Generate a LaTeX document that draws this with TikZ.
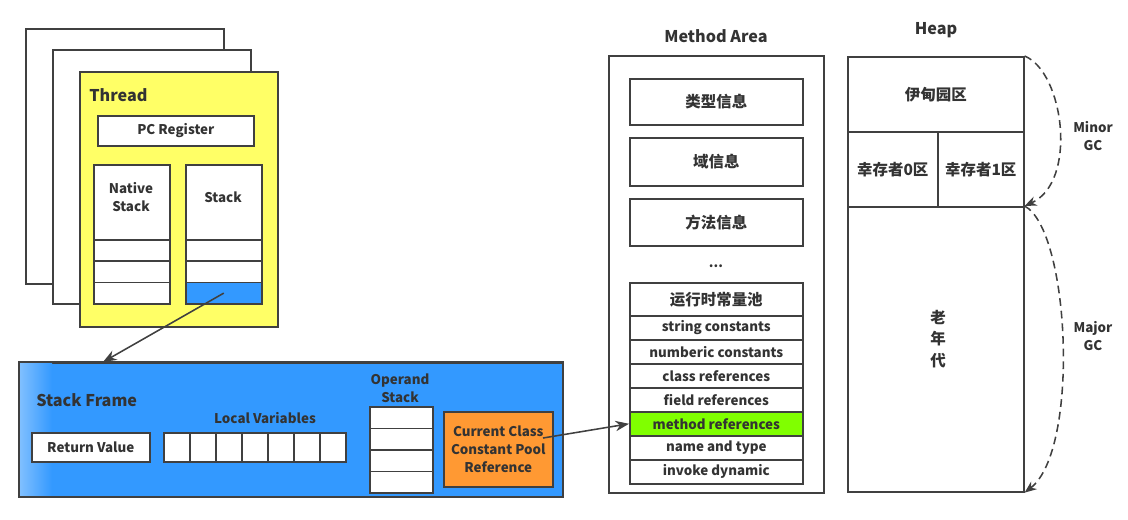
\documentclass[tikz,border=0pt]{standalone}
\usepackage{fontspec}
\setmainfont{Noto Sans CJK SC}
\usepackage{tikz}
\usetikzlibrary{arrows.meta,calc}
\definecolor{linha}{HTML}{404040}
\definecolor{texto}{HTML}{333333}
\definecolor{amarelo}{HTML}{FFFF66}
\definecolor{azul}{HTML}{3399FF}
\definecolor{azulclaro}{HTML}{7FBFFF}
\definecolor{laranja}{HTML}{FF9933}
\definecolor{verde}{HTML}{80FF00}
\tikzset{
  rect/.style={draw=linha, line width=1.1pt, inner sep=0pt, anchor=north west, fill=white,
    text=texto, font=\bfseries\fontsize{9.5}{12.5}\selectfont, align=center},
  lbl/.style={text=texto, font=\bfseries\fontsize{9.5}{12.5}\selectfont, align=center, inner sep=0pt},
  cjk/.style={font=\bfseries\fontsize{11}{15}\selectfont},
  titulo/.style={text=texto, font=\bfseries\fontsize{11.5}{13}\selectfont, inner sep=0pt},
  seta/.style={-{Stealth[length=3.4mm, width=2.6mm]}, draw=linha, line width=1.1pt},
  gc/.style={-{Stealth[length=3mm, width=2.4mm]}, draw=linha, line width=1.1pt, dash pattern=on 5.5pt off 3.5pt}
}
\begin{document}
\begin{tikzpicture}[x=0.025cm, y=-0.025cm]
\useasboundingbox (0,0) rectangle (1128,519);
% thread stack
\node[rect, minimum width=4.95cm, minimum height=6.375cm] (pag1) at (25,28) {};
\node[rect, minimum width=4.95cm, minimum height=6.35cm] (pag2) at (52,49) {};
\node[rect, fill=amarelo, minimum width=4.95cm, minimum height=6.375cm] (thread) at (79,71) {};
\node[titulo, anchor=west] (threadlbl) at (89,95) {Thread};
\node[rect, minimum width=3.9cm, minimum height=0.75cm] (pc) at (97,115) {PC Register};
\node[rect, minimum width=1.9cm, minimum height=1.875cm] (native) at (93,164) {};
\node[lbl] at (131,197) {Native\\Stack};
\node[rect, minimum width=1.9cm, minimum height=1.875cm] (stack) at (185,164) {};
\node[lbl] at (223,197) {Stack};
\foreach \i in {0,1,2}{
  \node[rect, minimum width=1.9cm, minimum height=0.533cm] (n\i) at (93,239+21.33*\i) {};
  \node[rect, minimum width=1.9cm, minimum height=0.533cm] (s\i) at (185,239+21.33*\i) {};
}
\node[rect, fill=azul, minimum width=1.9cm, minimum height=0.533cm] (s2) at (185,281.67) {};

% stack frame
\node[rect, fill=azul, minimum width=13.575cm, minimum height=3.35cm] (frame) at (19,362) {};
\shade[left color=azulclaro, right color=azul] (20,363) rectangle (52,495);
\draw[linha, line width=1.1pt] (frame.north west) rectangle (frame.south east);
\node[titulo, anchor=west, font=\bfseries\fontsize{11.5}{13}\selectfont] (sflbl) at (36,400) {Stack Frame};
\node[rect, minimum width=2.95cm, minimum height=0.725cm] (ret) at (31,432) {Return Value};
\node[lbl] (lvlbl) at (265,418) {Local Variables};
\foreach \i in {0,...,6}{
  \node[rect, minimum width=0.65cm, minimum height=0.725cm] (lv\i) at (163+26*\i,432) {};
}
\node[lbl] (oplbl) at (400,388) {Operand\\Stack};
\foreach \i in {0,...,3}{
  \node[rect, minimum width=1.575cm, minimum height=0.5375cm] (op\i) at (369,406+21.5*\i) {};
}
\node[rect, fill=laranja, minimum width=2.725cm, minimum height=1.875cm] (cpool) at (443,411) {Current Class\\Constant Pool\\Reference};
\coordinate (cpref) at (543,438);
\coordinate (sfin) at (103,362);

% method area
\node[titulo] (malbl) at (716,36) {Method Area};
\node[rect, minimum width=5.375cm, minimum height=10.925cm] (ma) at (608,55) {};
\node[rect, cjk, minimum width=4.325cm, minimum height=1.15cm] (tipo) at (629,78) {类型信息};
\node[rect, cjk, minimum width=4.325cm, minimum height=1.2cm] (dominio) at (629,137) {域信息};
\node[rect, cjk, minimum width=4.325cm, minimum height=1.175cm] (metodo) at (629,198) {方法信息};
\node[lbl] (dots) at (716,266) {...};
\node[rect, cjk, minimum width=4.325cm, minimum height=0.825cm] (rcp) at (629,282) {运行时常量池};
\foreach \t [count=\i from 0] in {string constants,numberic constants,class references,field references,method references,name and type,invoke dynamic}{
  \node[rect, minimum width=4.325cm, minimum height=0.6cm] (r\i) at (629,315+24*\i) {\t};
}
\node[rect, fill=verde, minimum width=4.325cm, minimum height=0.6cm] (r4) at (629,411) {method references};

% heap
\node[titulo] (heaplbl) at (936,30) {Heap};
\node[rect, cjk, minimum width=4.4cm, minimum height=1.875cm] (eden) at (847,56) {伊甸园区};
\node[rect, cjk, minimum width=2.25cm, minimum height=1.875cm] (sv0) at (847,131) {幸存者0区};
\node[rect, cjk, minimum width=2.15cm, minimum height=1.875cm] (sv1) at (937,131) {幸存者1区};
\node[rect, minimum width=4.4cm, minimum height=7.125cm] (old) at (847,206) {};
\node[lbl, font=\bfseries\fontsize{11}{15.5}\selectfont] (oldlbl) at (938,339) {老\\年\\代};
\node[lbl] (minor) at (1093,136) {Minor\\GC};
\node[lbl] (major) at (1093,336) {Major\\GC};

% arrows
\draw[seta] (s2.center) -- (sfin);
\draw[seta] (cpref) -- (r4.west);
\draw[gc] (eden.north east) .. controls (1064,72) and (1078,182) .. (old.north east);
\draw[gc] (old.north east) .. controls (1070,230) and (1080,450) .. (old.south east);
\end{tikzpicture}
\end{document}
